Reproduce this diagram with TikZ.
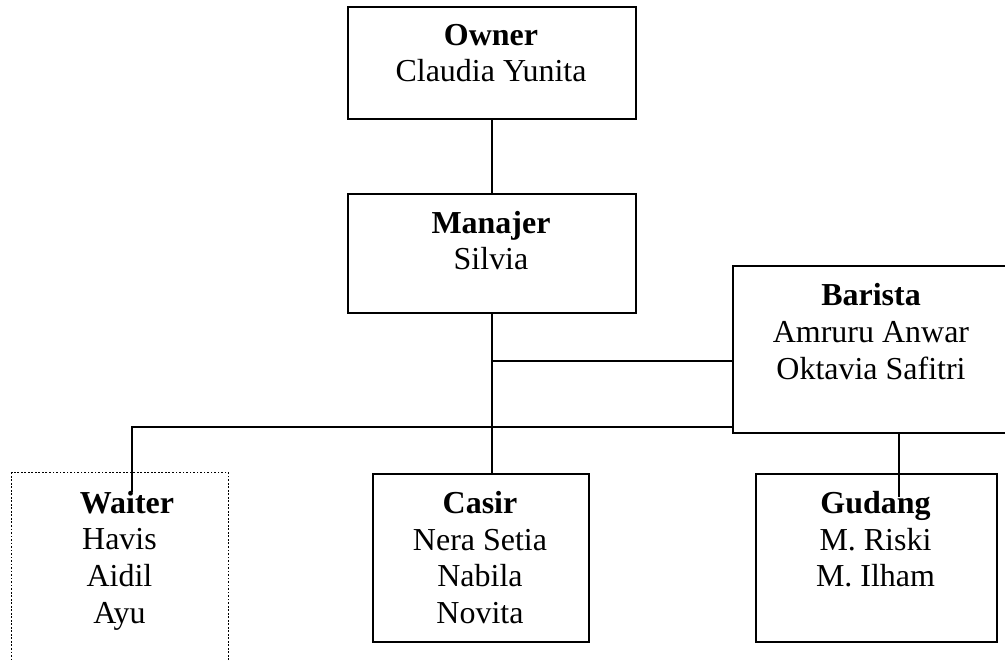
\documentclass[tikz,border=0pt]{standalone}
\usepackage{fontspec}
\setmainfont{Liberation Serif}
\usepackage{tikz}
\usetikzlibrary{positioning}
\tikzset{
    unitbox/.style={draw, rectangle, line width=1pt, anchor=north west, inner sep=0pt},
    unitlabel/.style={anchor=north, inner sep=0pt, align=center,
        font=\fontsize{18.2}{20.9}\selectfont},
    link/.style={line width=1pt}
}

\begin{document}
\begin{tikzpicture}[x=0.02cm, y=-0.02cm]
            \useasboundingbox (0,0) rectangle (1005,662);
            \clip (0,0) rectangle (1005,662);
            % boxes
            \node[unitbox, minimum width=288*0.02cm, minimum height=112*0.02cm] (owner) at (347,6) {};
            \node[unitbox, minimum width=288*0.02cm, minimum height=119*0.02cm] (manajer) at (347,193) {};
            \node[unitbox, minimum width=278*0.02cm, minimum height=167*0.02cm] (barista) at (732,265) {};
            \node[unitbox, densely dotted, line width=0.8pt, minimum width=217*0.02cm, minimum height=220*0.02cm] (waiter) at (11,472) {};
            \node[unitbox, minimum width=216*0.02cm, minimum height=168*0.02cm] (casir) at (372,473) {};
            \node[unitbox, minimum width=241*0.02cm, minimum height=168*0.02cm] (gudang) at (755,473) {};
            % texts
            \node[unitlabel] (ownertext) at (491,23.7) {\textbf{Owner}\\Claudia Yunita};
            \node[unitlabel] (manajertext) at (491,210.7) {\textbf{Manajer}\\Silvia};
            \node[unitlabel] (baristatext) at (871,283.3) {\textbf{Barista}\\Amruru Anwar\\Oktavia Safitri};
            \node[unitlabel] (waitertext) at (119.5,490.5) {\hspace*{0.3cm}\textbf{Waiter}\\Havis\\Aidil\\Ayu};
            \node[unitlabel] (casirtext) at (480,490.8) {\textbf{Casir}\\Nera Setia\\Nabila\\Novita};
            \node[unitlabel] (gudangtext) at (875.5,490.8) {\textbf{Gudang}\\M. Riski\\M. Ilham};
            % joints
            \coordinate (midjoint) at (492,361);
            \coordinate (waitertop) at (132,427);
            \coordinate (waiterend) at (132,492);
            \coordinate (gudangend) at (899,497);
            % connectors
            \draw[link] (owner.south) -- (manajer.north);
            \draw[link] (manajer.south -| midjoint) -- (casir.north -| midjoint);
            \draw[link] (midjoint) -- (midjoint -| barista.west);
            \draw[link] (waiterend) -- (waitertop) -- (waitertop -| barista.west);
            \draw[link] (barista.south -| gudangend) -- (gudangend);
        \end{tikzpicture}
\end{document}
